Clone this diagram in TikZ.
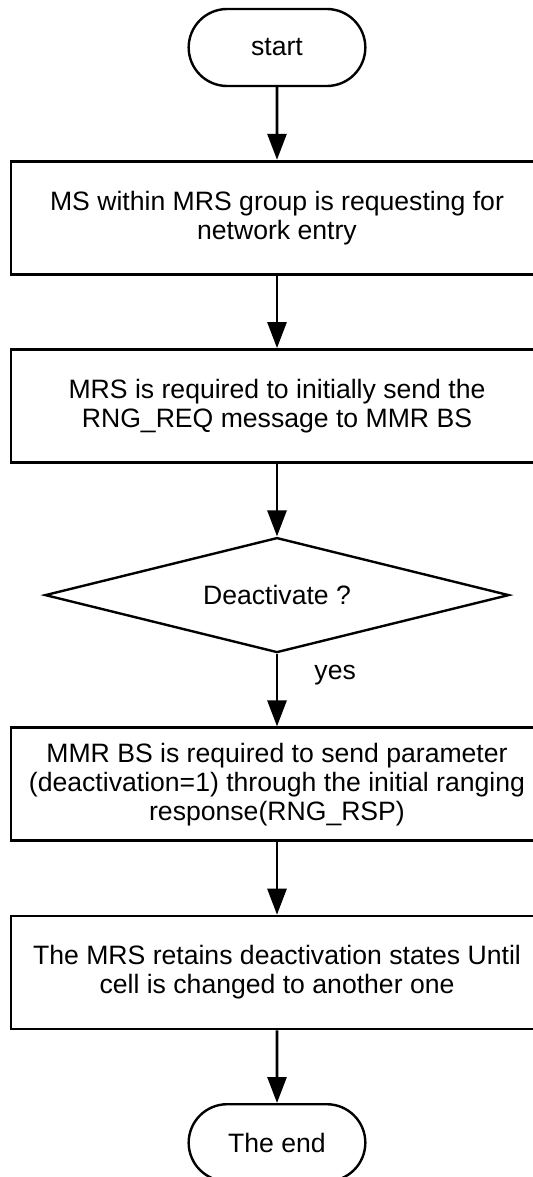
\documentclass[tikz,border=0pt]{standalone}
\usepackage{fontspec}
\setmainfont{Liberation Sans}
\usetikzlibrary{arrows.meta,positioning,shapes.geometric,shapes.misc}

\begin{document}
\begin{tikzpicture}[
    node distance=36.3pt,
    every node/.style={font=\fontsize{13.3}{14.5}\selectfont},
    terminal/.style={draw, rounded rectangle, line width=1.2pt, minimum width=95pt, minimum height=38.5pt},
    box/.style={draw, line width=1.35pt, align=center, minimum width=266pt, minimum height=56.5pt},
    decision/.style={draw, diamond, aspect=4.035, line width=1.2pt, minimum width=232pt, minimum height=57.5pt, inner sep=0pt},
    flow/.style={-{Triangle[length=13pt, width=9.5pt]}, line width=1.4pt}
]
\useasboundingbox (0,0) rectangle (266pt,-588.5pt);
\node[terminal] (start) at (138.5pt,-23.75pt) {start};
\node[box, below=of start] (entry) {MS within MRS group is requesting for\\network entry};
\node[box, below=of entry] (ranging) {MRS is required to initially send the\\RNG\_REQ message to MMR BS};
\node[decision, below=of ranging] (decide) {Deactivate ?};
\node[box, below=of decide] (respond) {MMR BS is required to send parameter\\(deactivation=1) through the initial ranging\\response(RNG\_RSP)};
\node[box, below=of respond] (retain) {The MRS retains deactivation states Until\\cell is changed to another one};
\node[terminal, below=of retain] (finish) {The end};
\draw[flow] (start) -- (entry);
\draw[flow] (entry) -- (ranging);
\draw[flow] (ranging) -- (decide);
\draw[flow] (decide) -- node[right=14.7pt, pos=0.3] (yes) {yes} (respond);
\draw[flow] (respond) -- (retain);
\draw[flow] (retain) -- (finish);
\end{tikzpicture}
\end{document}
